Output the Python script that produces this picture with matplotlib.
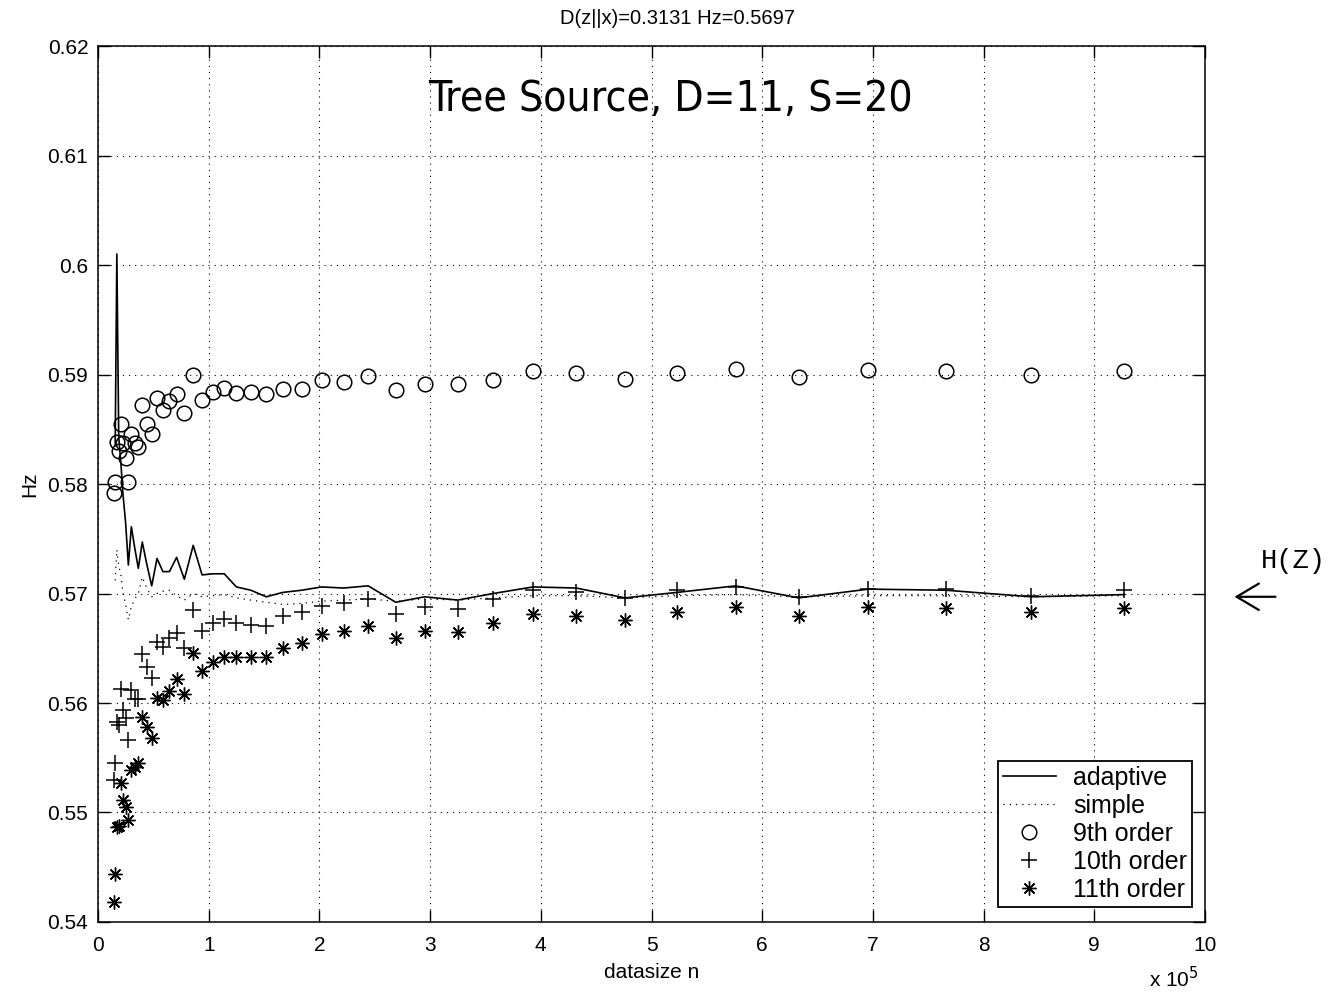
import matplotlib
matplotlib.use("Agg")
import matplotlib.pyplot as plt
from matplotlib.lines import Line2D

plt.rcParams['font.family'] = ['Liberation Sans', 'DejaVu Sans']

# datasize n (units of 1e5), shared by all series
n = [0.141, 0.155, 0.170, 0.187, 0.206, 0.226, 0.249, 0.274, 0.301, 0.331,
     0.364, 0.40, 0.44, 0.485, 0.533, 0.586, 0.645, 0.71, 0.78, 0.86,
     0.94, 1.04, 1.14, 1.25, 1.38, 1.52, 1.67, 1.84, 2.02, 2.22,
     2.44, 2.69, 2.95, 3.25, 3.57, 3.93, 4.32, 4.76, 5.23, 5.76,
     6.33, 6.96, 7.66, 8.43, 9.27]

h9 = [0.5792, 0.5802, 0.5838, 0.5830, 0.5855, 0.5837, 0.5824, 0.5802, 0.5846, 0.5837,
      0.5834, 0.5872, 0.5855, 0.5846, 0.5879, 0.5868, 0.5876, 0.5882, 0.5865, 0.5900,
      0.5877, 0.5884, 0.5888, 0.5883, 0.5884, 0.5882, 0.5887, 0.5887, 0.5895, 0.5893,
      0.5899, 0.5886, 0.5891, 0.5891, 0.5895, 0.5903, 0.5901, 0.5896, 0.5901, 0.5905,
      0.5898, 0.5904, 0.5903, 0.5900, 0.5903]

h10 = [0.5530, 0.5545, 0.5583, 0.5580, 0.5613, 0.5594, 0.5586, 0.5566, 0.5612, 0.5604,
       0.5604, 0.5645, 0.5633, 0.5623, 0.5656, 0.5651, 0.5659, 0.5664, 0.5650, 0.5685,
       0.5666, 0.5673, 0.5677, 0.5673, 0.5671, 0.5670, 0.5679, 0.5683, 0.5689, 0.5691,
       0.5695, 0.5681, 0.5688, 0.5686, 0.5695, 0.5703, 0.5701, 0.5696, 0.5703, 0.5706,
       0.5697, 0.5704, 0.5704, 0.5698, 0.5703]

h11 = [0.5418, 0.5444, 0.5487, 0.5488, 0.5527, 0.5511, 0.5505, 0.5493, 0.5539, 0.5542,
       0.5545, 0.5587, 0.5578, 0.5568, 0.5605, 0.5603, 0.5611, 0.5622, 0.5608, 0.5646,
       0.5629, 0.5637, 0.5642, 0.5642, 0.5642, 0.5642, 0.5650, 0.5655, 0.5663, 0.5666,
       0.5670, 0.5659, 0.5666, 0.5665, 0.5673, 0.5681, 0.5679, 0.5676, 0.5683, 0.5688,
       0.5679, 0.5688, 0.5687, 0.5683, 0.5687]

# adaptive / simple estimates start at the second datasize
n_line = n[1:]
adaptive = [0.5835, 0.6010, 0.5843, 0.5820, 0.5790, 0.5765, 0.5726, 0.5761, 0.5742,
            0.5723, 0.5747, 0.5727, 0.5707, 0.5732, 0.5720, 0.5720, 0.5733, 0.5713, 0.5744,
            0.5717, 0.5718, 0.5718, 0.5706, 0.5703, 0.5697, 0.5701, 0.5703, 0.5706, 0.5705,
            0.5707, 0.5692, 0.5697, 0.5694, 0.5700, 0.5706, 0.5705, 0.5696, 0.5701, 0.5707,
            0.5696, 0.5704, 0.5703, 0.5697, 0.5699]
simple = [0.5712, 0.5740, 0.5725, 0.5718, 0.5700, 0.5690, 0.5676, 0.5688, 0.5695,
          0.5700, 0.5715, 0.5705, 0.5697, 0.5700, 0.5702, 0.5703, 0.5698, 0.5694, 0.5700,
          0.5697, 0.5698, 0.5699, 0.5696, 0.5694, 0.5692, 0.5690, 0.5691, 0.5693, 0.5694,
          0.5695, 0.5693, 0.5695, 0.5694, 0.5696, 0.5698, 0.5698, 0.5696, 0.5698, 0.5699,
          0.5697, 0.5698, 0.5698, 0.5697, 0.5698]

HZ = 0.5697

fig = plt.figure(figsize=(13.3, 9.96), dpi=100)
ax = fig.add_axes([0.0737, 0.0743, 0.8323, 0.8795])

star = (8, 2, 0)
dotted = (0, (1, 4))
ax.plot(n_line, adaptive, '-', color='black', lw=1.2)
ax.plot(n_line, simple, color='black', lw=0.9, linestyle=dotted)
ax.plot(n, h9, 'o', mfc='none', mec='black', ms=10.5, mew=1.1)
ax.plot(n, h10, '+', color='black', ms=11, mew=1.1)
ax.plot(n, h11, marker=star, ls='none', color='black', ms=10, mew=1.0)

ax.set_xlim(0, 10)
ax.set_ylim(0.54, 0.62)
ax.set_xticks(range(0, 11))
ax.set_yticks([0.54, 0.55, 0.56, 0.57, 0.58, 0.59, 0.6, 0.61, 0.62])
ax.set_yticklabels(['0.54', '0.55', '0.56', '0.57', '0.58', '0.59', '0.6', '0.61', '0.62'])
ax.tick_params(direction='in', length=8.5, width=1, labelsize=15, top=True, right=True)
ax.tick_params(axis='x', pad=10)
ax.tick_params(axis='y', pad=7)
ax.grid(True, color='black', linestyle=(0, (1, 4.5)), lw=0.8)
for s in ax.spines.values():
    s.set_linewidth(1.1)

ax.set_xlabel('datasize n', fontsize=15, labelpad=6)
ax.set_ylabel('Hz', fontsize=15, labelpad=6)
fig.text(677 / 1330, 1 - 18 / 996, 'D(z||x)=0.3131 Hz=0.5697', fontsize=14.5,
         ha='center', va='center')

ax.text(0.5167, 0.94, 'Tree Source, D=11, S=20', transform=ax.transAxes, ha='center',
        va='center', fontsize=30.5, family=['DejaVu Sans'], fontstretch='condensed')

fig.text(1149 / 1330, 1 - 987 / 996, r'x 10$^5$', fontsize=15, ha='left', va='baseline')

# H(Z) marker outside the axes
fig.text(1261 / 1330, 1 - 568 / 996, 'H(Z)', family=['Liberation Mono'], fontsize=19.5,
         ha='left', va='baseline')
ax.annotate('', xy=(1.0241, HZ), xytext=(1.0662, HZ), xycoords=('axes fraction', 'data'),
            textcoords=('axes fraction', 'data'),
            arrowprops=dict(arrowstyle='->,head_length=1.6,head_width=0.95', lw=1.6,
                            color='black'),
            annotation_clip=False)

handles = [Line2D([], [], color='black', lw=1.2),
           Line2D([], [], color='black', lw=0.9, linestyle=dotted),
           Line2D([], [], marker='o', ls='none', mfc='none', mec='black', ms=10.5, mew=1.1),
           Line2D([], [], marker='+', ls='none', color='black', ms=11, mew=1.1),
           Line2D([], [], marker=star, ls='none', color='black', ms=10, mew=1.0)]
labels = ['adaptive', 'simple', '9th order', '10th order', '11th order']
leg = ax.legend(handles, labels, loc='lower right', bbox_to_anchor=(0.9883, 0.0171),
                borderaxespad=0, fontsize=18, frameon=True, fancybox=False,
                edgecolor='black', framealpha=1, labelspacing=0.16, handlelength=2.1,
                borderpad=0.2, handletextpad=0.7)
leg.get_frame().set_linewidth(1.3)

fig.savefig('out.png', dpi=100)
